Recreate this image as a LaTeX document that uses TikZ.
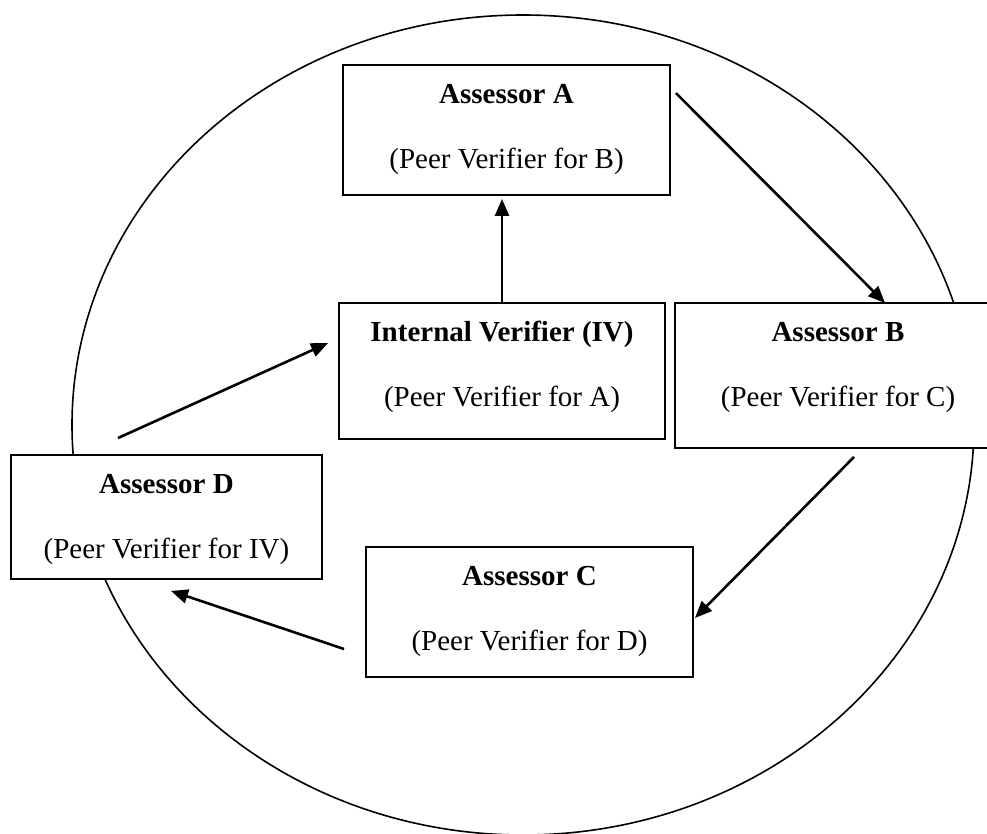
\documentclass[tikz,border=0pt]{standalone}
\usepackage{fontspec}
\setmainfont{Liberation Serif}
\usetikzlibrary{arrows.meta,calc}

\begin{document}
\begin{tikzpicture}[x=0.5pt,y=-0.5pt,
  boxnode/.style={draw=black, fill=white, line width=0.95pt, rectangle, inner sep=0pt},
  titletext/.style={anchor=base, inner sep=0pt, font=\fontsize{14.5pt}{17pt}\selectfont\bfseries},
  roletext/.style={anchor=base, inner sep=0pt, font=\fontsize{14.5pt}{17pt}\selectfont},
  arr/.style={line width=1.3pt, -{Triangle[length=8.5pt,width=7pt]}},
  ring/.style={line width=0.8pt}
]
\useasboundingbox (0,0) rectangle (987,834);
\clip (0,0) rectangle (987,834);

% outer ring
\draw[ring] (523,425) ellipse [x radius=225.5pt, y radius=205pt];

% boxes
\node[boxnode, minimum width=163.5pt, minimum height=65pt]   (A)  at (506.5,130) {};
\node[boxnode, minimum width=163pt,   minimum height=68pt]   (IV) at (502,371) {};
\node[boxnode, minimum width=163pt,   minimum height=72.5pt] (B)  at (838,375.5) {};
\node[boxnode, minimum width=163.5pt, minimum height=65pt]   (C)  at (529.5,612) {};
\node[boxnode, minimum width=155.5pt, minimum height=62pt]   (D)  at (166.5,517) {};

% labels
\node[titletext] (At)  at (506.5,103.5) {Assessor A};
\node[roletext]  (Ar)  at (506.5,169)   {(Peer Verifier for B)};
\node[titletext] (IVt) at (502,341.5)   {Internal Verifier (IV)};
\node[roletext]  (IVr) at (502,407)     {(Peer Verifier for A)};
\node[titletext] (Bt)  at (838,341.5)   {Assessor B};
\node[roletext]  (Br)  at (838,407)     {(Peer Verifier for C)};
\node[titletext] (Ct)  at (529.5,585.5) {Assessor C};
\node[roletext]  (Cr)  at (529.5,651)   {(Peer Verifier for D)};
\node[titletext] (Dt)  at (166.5,493.5) {Assessor D};
\node[roletext]  (Dr)  at (166.5,559)   {(Peer Verifier for IV)};

% verification cycle
\draw[arr] (IV.north) -- ($(IV.north |- A.south)+(0,3)$);
\draw[arr] ($(A.north east)+(5,29)$) -- ($(B.north west)+(211,1)$);
\draw[arr] ($(B.south west)+(180,8)$) -- ($(C.east)+(1,6)$);
\draw[arr] ($(C.west)+(-21,37)$) -- ($(D.south)+(4.5,11)$);
\draw[arr] ($(D.north)+(-48.5,-16)$) -- ($(IV.west)+(-10,-28)$);
\end{tikzpicture}
\end{document}
